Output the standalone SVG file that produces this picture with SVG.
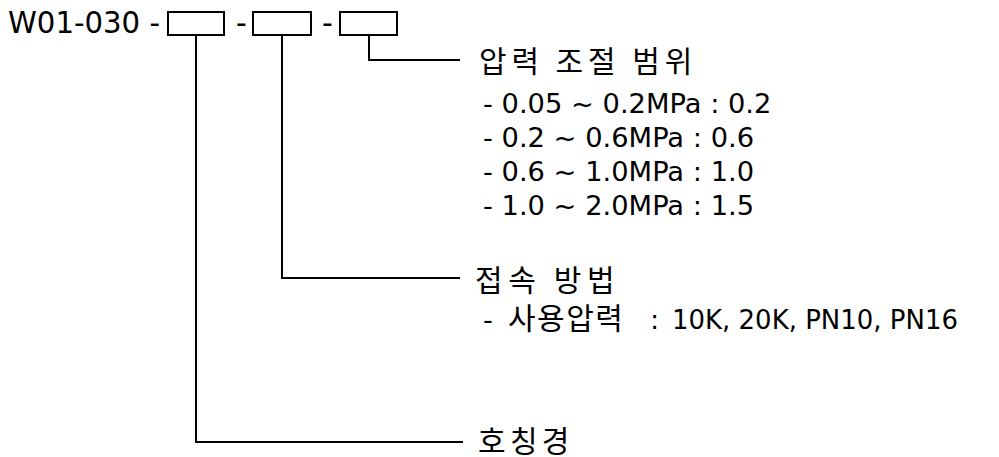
<svg xmlns="http://www.w3.org/2000/svg" width="999" height="457" viewBox="0 0 999 457">
<style>
.t{font-family:"DejaVu Sans","Noto Sans CJK KR",sans-serif;fill:#000}
.k{font-family:"Noto Sans CJK KR","DejaVu Sans",sans-serif;fill:#000;font-size:30px}
.ln{fill:none;stroke:#000;stroke-width:2}
</style>
<rect width="999" height="457" fill="#fff"/>
<g id="code">
<text class="t" x="8" y="33" font-size="30" textLength="152" lengthAdjust="spacingAndGlyphs">W01-030 -</text>
<rect class="ln" x="168" y="12" width="56" height="23"/>
<text class="t" x="236" y="33" font-size="30">-</text>
<rect class="ln" x="253" y="12" width="58" height="23"/>
<text class="t" x="322" y="33" font-size="30">-</text>
<rect class="ln" x="340" y="12" width="57" height="23"/>
</g>
<g id="connectors">
<polyline class="ln" points="369,35 369,60 460,60"/>
<polyline class="ln" points="282,35 282,278 460,278"/>
<polyline class="ln" points="196,35 196,442 463,442"/>
</g>
<g id="pressure">
<text class="k" x="479" y="72" letter-spacing="4.9">압력 조절 범위</text>
<text class="t" x="483" y="113" font-size="27.3">- 0.05 ~ 0.2MPa : 0.2</text>
<text class="t" x="483" y="147" font-size="27.3">- 0.2 ~ 0.6MPa : 0.6</text>
<text class="t" x="483" y="181" font-size="27.3">- 0.6 ~ 1.0MPa : 1.0</text>
<text class="t" x="483" y="215" font-size="27.3">- 1.0 ~ 2.0MPa : 1.5</text>
</g>
<g id="connection">
<text class="k" x="475" y="291" letter-spacing="5.6">접속 방법</text>
<text class="t" x="483" y="329" font-size="27.3">-</text>
<text class="k" x="508" y="329" letter-spacing="1.5">사용압력</text>
<text class="t" x="650" y="329" font-size="27.3">:</text>
<text class="t" x="672" y="329" font-size="27.3" textLength="286" lengthAdjust="spacingAndGlyphs">10K, 20K, PN10, PN16</text>
</g>
<g id="size">
<text class="k" x="478" y="452" letter-spacing="4.3">호칭경</text>
</g>
</svg>
